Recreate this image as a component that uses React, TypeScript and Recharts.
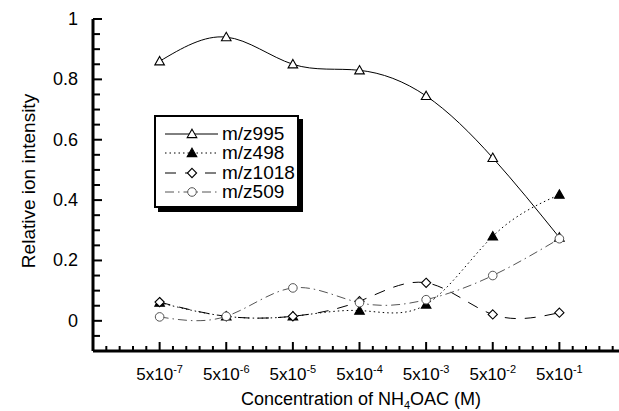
import React from 'react'
import { LineChart, Line, XAxis, YAxis, Legend } from 'recharts'

const exponents = ['-7', '-6', '-5', '-4', '-3', '-2', '-1']
const mz995 = [0.86, 0.94, 0.85, 0.83, 0.745, 0.54, 0.276]
const mz498 = [0.06, 0.015, 0.015, 0.034, 0.054, 0.28, 0.418]
const mz1018 = [0.062, 0.015, 0.015, 0.065, 0.126, 0.021, 0.027]
const mz509 = [0.013, 0.015, 0.109, 0.06, 0.07, 0.15, 0.272]
const yLabels = [0, 0.2, 0.4, 0.6, 0.8, 1]

const data = exponents.map((e, i) => ({
  x: i + 1,
  mz995: mz995[i],
  mz498: mz498[i],
  mz1018: mz1018[i],
  mz509: mz509[i],
}))

const FONT = '"Liberation Sans", Arial, sans-serif'

const xTicks = Array.from({ length: 41 }, (_, i) => Number((i * 0.2).toFixed(1)))
const yTicks = Array.from({ length: 23 }, (_, i) => Number((-0.1 + i * 0.05).toFixed(2)))

const Marker = ({ cx, cy, shape, color }: any) => {
  if (cx == null || cy == null) return null
  if (shape === 'triangle' || shape === 'filledTriangle') {
    const filled = shape === 'filledTriangle'
    return (
      <path
        d={`M${cx},${cy - 4.8} L${cx + 4.8},${cy + 3.6} L${cx - 4.8},${cy + 3.6} Z`}
        fill={filled ? '#000' : '#fff'}
        stroke={color}
        strokeWidth={1.1}
      />
    )
  }
  if (shape === 'diamond') {
    return (
      <path
        d={`M${cx},${cy - 4.6} L${cx + 4.6},${cy} L${cx},${cy + 4.6} L${cx - 4.6},${cy} Z`}
        fill="#fff"
        stroke={color}
        strokeWidth={1.1}
      />
    )
  }
  return <circle cx={cx} cy={cy} r={4.3} fill="#fff" stroke={color} strokeWidth={1} />
}

const series = [
  { key: 'mz995', name: 'm/z995', dash: undefined, shape: 'triangle', color: '#000' },
  { key: 'mz498', name: 'm/z498', dash: '1.5 3', shape: 'filledTriangle', color: '#000' },
  { key: 'mz1018', name: 'm/z1018', dash: '11 9', shape: 'diamond', color: '#000' },
  { key: 'mz509', name: 'm/z509', dash: '9 4 1.5 4', shape: 'circle', color: '#555' },
]

// inward-pointing ticks, labels only on whole categories
const renderXTick = (props: any) => {
  const { x, y, payload } = props
  const v = payload.value
  const major = Math.abs(v - Math.round(v)) < 1e-6
  const idx = Math.round(v) - 1
  const showLabel = major && idx >= 0 && idx < exponents.length
  return (
    <g key={`xt-${v}`}>
      <line x1={x} x2={x} y1={y} y2={y - (major ? 9 : 5)} stroke="#000" strokeWidth={2} />
      {showLabel && (
        <text x={x} y={y + 29} textAnchor="middle" fontFamily={FONT} fontSize={17} fill="#000">
          5x10
          <tspan fontSize={11} dy={-7}>{exponents[idx]}</tspan>
        </text>
      )}
    </g>
  )
}

const renderYTick = (props: any) => {
  const { x, y, payload } = props
  const v = payload.value
  const major = v >= 0 && Math.round(v * 100) % 20 === 0
  return (
    <g key={`yt-${v}`}>
      <line x1={x} x2={x + (major ? 9 : 7)} y1={y} y2={y} stroke="#000" strokeWidth={2} />
      {major && (
        <text x={x - 15} y={y + 6} textAnchor="end" fontFamily={FONT} fontSize={18} fill="#000">
          {String(v)}
        </text>
      )}
    </g>
  )
}

const renderRightTick = (props: any) => (
  <line key={`rt-${props.payload.value}`} x1={props.x} x2={props.x - 10} y1={props.y} y2={props.y} stroke="#000" strokeWidth={2} />
)

const LegendBox = () => (
  <div
    style={{
      width: 145,
      height: 93,
      border: '2px solid #000',
      boxShadow: '4px 4px 0 #000',
      background: '#fff',
      paddingTop: 7,
      boxSizing: 'border-box',
    }}
  >
    {series.map((s) => (
      <div key={s.key} style={{ display: 'flex', alignItems: 'center', height: 19.5 }}>
        <svg width={66} height={16} style={{ flex: 'none' }}>
          <line x1={9} x2={62} y1={8} y2={8} stroke={s.color} strokeWidth={1} strokeDasharray={s.dash} />
          <Marker cx={36} cy={8} shape={s.shape} color={s.color} />
        </svg>
        <span style={{ fontFamily: FONT, fontSize: 19, color: '#000', lineHeight: '16px' }}>{s.name}</span>
      </div>
    ))}
  </div>
)

const App = () => {
  return (
    <div style={{ position: 'absolute', left: 0, top: 0, width: 619, height: 411, overflow: 'hidden', background: '#fff' }}>
      <LineChart width={640} height={411} data={data} margin={{ top: 19, right: 14, bottom: 0, left: 0 }}>
        <XAxis
          dataKey="x"
          type="number"
          domain={[0, 8]}
          ticks={xTicks}
          interval={0}
          tickSize={0}
          tickMargin={0}
          tick={renderXTick}
          tickLine={false}
          height={60}
          axisLine={{ stroke: '#000', strokeWidth: 3 }}
          label={{
            content: () => (
              <text x={361} y={405} textAnchor="middle" fontFamily={FONT} fontSize={18} fill="#000">
                Concentration of NH
                <tspan fontSize={11} dy={4}>4</tspan>
                <tspan dy={-4}>OAC (M)</tspan>
              </text>
            ),
          }}
        />
        <XAxis
          xAxisId="top"
          orientation="top"
          type="number"
          domain={[0, 8]}
          height={0}
          tick={false}
          tickLine={false}
          axisLine={{ stroke: '#000', strokeWidth: 3 }}
        />
        <YAxis
          type="number"
          domain={[-0.1, 1]}
          ticks={yTicks}
          interval={0}
          tickSize={0}
          tickMargin={0}
          tick={renderYTick}
          tickLine={false}
          width={93}
          axisLine={{ stroke: '#000', strokeWidth: 3 }}
          label={{
            content: () => (
              <text
                x={0}
                y={0}
                transform="translate(35,181) rotate(-90)"
                textAnchor="middle"
                fontFamily={FONT}
                fontSize={19}
                fill="#000"
              >
                Relative ion intensity
              </text>
            ),
          }}
        />
        <YAxis
          yAxisId="right"
          orientation="right"
          type="number"
          domain={[-0.1, 1]}
          ticks={yLabels}
          interval={0}
          tickSize={0}
          tickMargin={0}
          width={0}
          tick={renderRightTick}
          tickLine={false}
          axisLine={{ stroke: '#000', strokeWidth: 3 }}
        />
        <Legend
          layout="vertical"
          align="center"
          verticalAlign="middle"
          wrapperStyle={{ left: 154, top: 115 }}
          content={() => <LegendBox />}
        />
        {series.map((s) => (
          <Line
            key={s.key}
            dataKey={s.key}
            name={s.name}
            type="natural"
            stroke={s.color}
            strokeWidth={1}
            strokeDasharray={s.dash}
            isAnimationActive={false}
            dot={(p: any) => <Marker key={`${s.key}-${p.index}`} cx={p.cx} cy={p.cy} shape={s.shape} color={s.color} />}
            activeDot={false}
          />
        ))}
      </LineChart>
    </div>
  )
}

export default App
